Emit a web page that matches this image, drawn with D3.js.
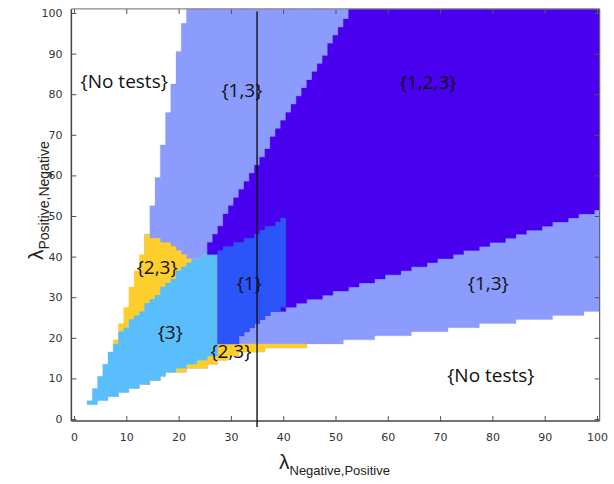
<!DOCTYPE html>
<html lang="en">
<head>
  <meta charset="utf-8">
  <title></title>
  <script src="https://d3js.org/d3.v7.min.js"></script>
  <style>
    body { margin: 0; background: #fff; }
  </style>
</head>
<body>
  <div id="my_dataviz"></div>
<script>
  // each boundary is a step list: [first column, cell edge value]
  var lowerEdge = [[3,3.5],[5,4.5],[7,5.5],[9,6.5],[11,7.5],[13,8.5],[15,9.5],[17,10.5],[18,11.5],[22,12.5],[26,13.5],[28,14.5],[30,15.5],[32,16.5],[37,17.5],[45,18.5],[52,19.5],[58,20.5],[65,21.5],[72,22.5],[78,23.5],[85,24.5],[92,25.5],[98,26.5]];
  var upperEdge = [[3,4.5],[4,7.5],[5,10.5],[6,13.5],[7,16.5],[8,19.5],[9,23.5],[10,27.5],[11,32.5],[12,36.5],[13,40.5],[14,45.5],[15,52.5],[16,59.5],[17,67.5],[18,75.5],[19,82.5],[20,90.5],[21,97.5],[22,101]];
  var yellowTop = [[8,19.5],[9,23.5],[10,27.5],[11,32.5],[12,36.5],[13,40.5],[14,45.5],[15,44.5],[17,43.5],[19,42.5],[20,41.5],[21,40.5],[22,39.5],[25,40.5],[28,18.5]];
  var cyanBottom = [[3,3.5],[5,4.5],[7,5.5],[9,6.5],[11,7.5],[13,8.5],[15,9.5],[17,10.5],[18,11.5],[20,12.5],[22,13.5],[24,14.5],[26,15.5]];
  var cyanTop = [[3,4.5],[4,7.5],[5,10.5],[6,13.5],[7,16.5],[8,18.5],[9,21.5],[10,22.5],[11,24.5],[12,25.5],[13,26.5],[14,28.5],[15,29.5],[16,30.5],[17,32.5],[18,33.5],[19,34.5],[20,36.5],[21,37.5],[22,38.5],[23,39.5],[25,40.5]];
  var blueBottom = [[28,18.5],[32,20.5],[33,21.5],[34,22.5],[35,23.5],[36,24.5],[37,25.5],[38,26.5],[40,27.5]];
  var blueTop = [[28,41.5],[29,42.5],[31,43.5],[33,44.5],[35,45.5],[36,46.5],[37,47.5],[39,48.5],[40,49.5]];
  var purpleBottom = [[26,40.5],[28,18.5],[32,20.5],[33,21.5],[34,22.5],[35,23.5],[36,24.5],[37,25.5],[38,26.5],[41,27.5],[43,28.5],[45,29.5],[48,30.5],[50,31.5],[53,32.5],[55,33.5],[58,34.5],[60,35.5],[63,36.5],[65,37.5],[68,38.5],[70,39.5],[73,40.5],[75,41.5],[78,42.5],[80,43.5],[83,44.5],[85,45.5],[87,46.5],[90,47.5],[92,48.5],[95,49.5],[97,50.5],[100,51.5]];
  var purpleTop = [[26,43.5],[27,45.5],[28,47.5],[29,50.5],[30,52.5],[31,54.5],[32,56.5],[33,58.5],[34,60.5],[35,62.5],[36,64.5],[37,66.5],[38,69.5],[39,71.5],[40,73.5],[41,75.5],[42,77.5],[43,79.5],[44,81.5],[45,83.5],[46,85.5],[47,87.5],[48,89.5],[49,92.5],[50,94.5],[51,96.5],[52,98.5],[53,101]];

  var xTicks = [0,10,20,30,40,50,60,70,80,90,100];
  var yTicks = [0,10,20,30,40,50,60,70,80,90,100];
  var markerX = 35;

  var regionLabels = ["{No tests}","{1,3}","{1,2,3}","{2,3}","{1}","{3}","{2,3}","{1,3}","{No tests}"];
  var labelAt = [[9.6,81.5],[32.1,79.3],[67.7,81.3],[15.9,35.7],[33.5,31.8],[18.4,19.7],[30,15],[79.2,31.8],[79.7,9.1]];

  var width = 614, height = 484;

  var svg = d3.select("#my_dataviz")
    .append("svg")
    .attr("width", width)
    .attr("height", height);

  var x = d3.scaleLinear().domain([0, 100]).range([74, 597]);
  var y = d3.scaleLinear().domain([0, 100]).range([419, 13]);

  function valueAt(steps, c) {
    var v = steps[0][1];
    steps.forEach(function(s) { if (c >= s[0]) v = s[1]; });
    return v;
  }

  function stepPoints(steps, from, to) {
    var pts = [];
    for (var c = from; c <= to; c++) {
      var v = valueAt(steps, c);
      pts.push([c - 0.5, v], [c + 0.5, v]);
    }
    return pts;
  }

  var line = d3.line().x(function(d) { return x(d[0]); }).y(function(d) { return y(d[1]); });

  // painted in order, later regions cover earlier ones
  var regions = [
    { lower: lowerEdge, upper: upperEdge, from: 14, to: 100, color: "#8c9cfc" },
    { lower: lowerEdge, upper: yellowTop, from: 8, to: 44, color: "#fecf2c" },
    { lower: cyanBottom, upper: cyanTop, from: 3, to: 27, color: "#5bbefc" },
    { lower: purpleBottom, upper: purpleTop, from: 26, to: 100, color: "#4800ef" },
    { lower: blueBottom, upper: blueTop, from: 28, to: 40, color: "#2c55f9" }
  ];

  svg.append("g")
    .selectAll("path")
    .data(regions)
    .enter()
    .append("path")
    .attr("d", function(r) {
      var pts = stepPoints(r.lower, r.from, r.to)
        .concat(stepPoints(r.upper, r.from, r.to).reverse());
      return line(pts) + "Z";
    })
    .attr("fill", function(r) { return r.color; })
    .attr("stroke", function(r) { return r.color; })
    .attr("stroke-width", 0.3);

  // axes with inward ticks
  function styleAxis(g) {
    g.select(".domain").remove();
    g.selectAll(".tick line").attr("stroke", "#555");
    g.selectAll(".tick text").attr("fill", "#333")
      .style("font-family", "'DejaVu Sans', sans-serif").style("font-size", "11px");
  }

  svg.append("g")
    .attr("transform", "translate(0," + y(-0.5) + ")")
    .call(d3.axisBottom(x).tickValues(xTicks).tickSizeInner(-5).tickSizeOuter(0).tickPadding(12))
    .call(styleAxis);

  svg.append("g")
    .attr("transform", "translate(" + x(-0.5) + ",0)")
    .call(d3.axisLeft(y).tickValues(yTicks).tickSizeInner(-5).tickSizeOuter(0).tickPadding(9))
    .call(styleAxis);

  svg.append("g")
    .attr("transform", "translate(0," + y(101) + ")")
    .call(d3.axisTop(x).tickValues(xTicks).tickSizeInner(-5).tickSizeOuter(0).tickFormat(""))
    .call(styleAxis);

  svg.append("g")
    .attr("transform", "translate(" + x(100.5) + ",0)")
    .call(d3.axisRight(y).tickValues(yTicks).tickSizeInner(-5).tickSizeOuter(0).tickFormat(""))
    .call(styleAxis);

  // frame
  svg.append("line")
    .attr("x1", x(-0.5)).attr("x2", x(-0.5)).attr("y1", y(101)).attr("y2", y(-0.5))
    .attr("stroke", "#444").attr("stroke-width", 1.5);
  svg.append("line")
    .attr("x1", x(-0.5)).attr("x2", x(100.5)).attr("y1", y(-0.5)).attr("y2", y(-0.5))
    .attr("stroke", "#444").attr("stroke-width", 1.5);
  svg.append("line")
    .attr("x1", x(-0.5)).attr("x2", x(100.5)).attr("y1", y(101)).attr("y2", y(101))
    .attr("stroke", "#888").attr("stroke-width", 1.2);
  svg.append("line")
    .attr("x1", x(100.5)).attr("x2", x(100.5)).attr("y1", y(101)).attr("y2", y(-0.5))
    .attr("stroke", "#666").attr("stroke-width", 1.2);

  // vertical marker
  svg.append("line")
    .attr("x1", x(markerX)).attr("x2", x(markerX))
    .attr("y1", y(100.4)).attr("y2", y(-2))
    .attr("stroke", "#111").attr("stroke-width", 1.4);

  // region labels
  svg.append("g")
    .selectAll("text")
    .data(regionLabels)
    .enter()
    .append("text")
    .attr("x", function(d, i) { return x(labelAt[i][0]); })
    .attr("y", function(d, i) { return y(labelAt[i][1]); })
    .attr("text-anchor", "middle")
    .style("font-family", "'Open Sans', sans-serif")
    .style("font-size", "19px")
    .attr("fill", "#111")
    .text(function(d) { return d; });

  // axis titles
  var xt = svg.append("text")
    .attr("x", 279).attr("y", 469)
    .style("font-family", "'Liberation Sans', Arial, sans-serif")
    .attr("fill", "#222");
  xt.append("tspan").style("font-size", "21px").text("λ");
  xt.append("tspan").style("font-size", "13px").attr("dy", 6).text("Negative,Positive");

  var yt = svg.append("text")
    .attr("transform", "translate(43,260) rotate(-90)")
    .style("font-family", "'Liberation Sans', Arial, sans-serif")
    .attr("fill", "#222");
  yt.append("tspan").style("font-size", "21px").text("λ");
  yt.append("tspan").style("font-size", "14px").attr("dy", 6).text("Positive,Negative");
</script>
</body>
</html>
